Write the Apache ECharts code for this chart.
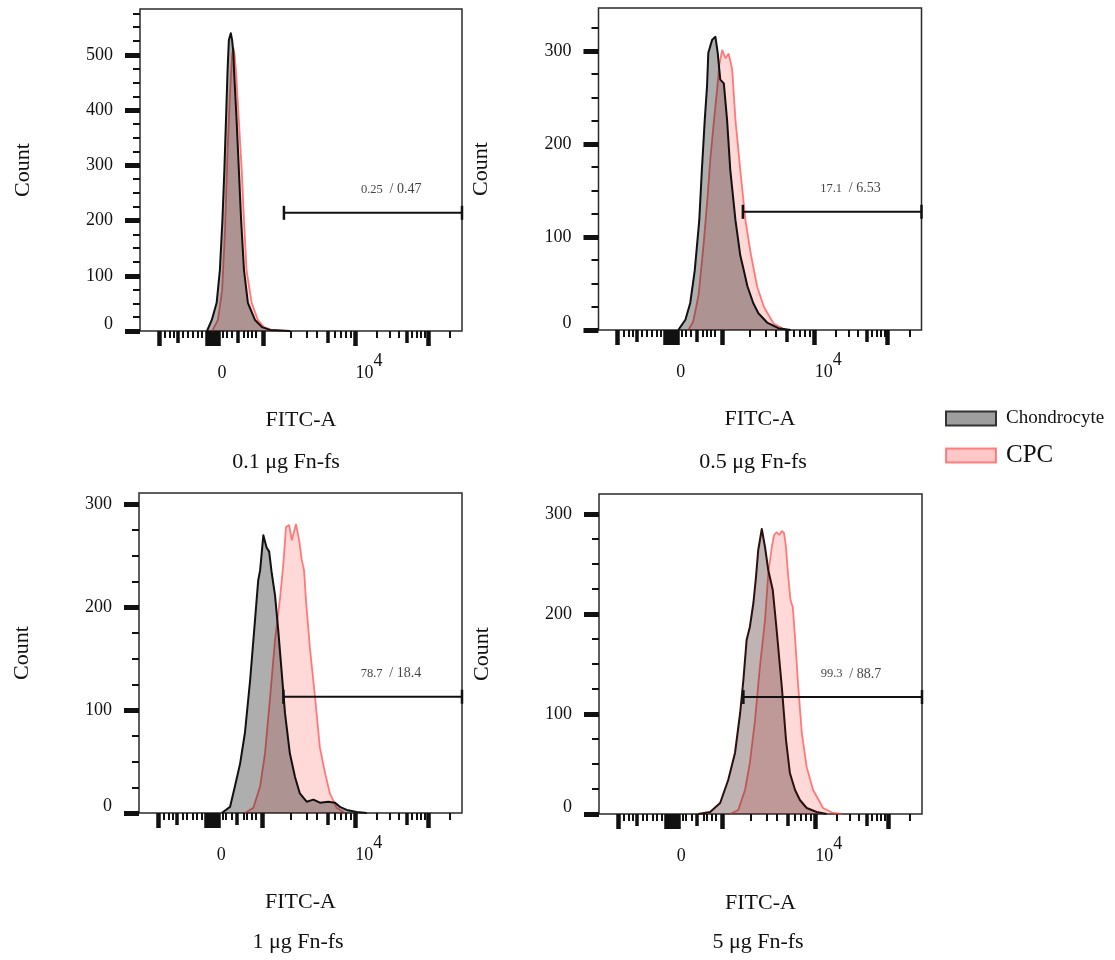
<!DOCTYPE html>
<html><head><meta charset="utf-8">
<script src="https://cdn.jsdelivr.net/npm/echarts@6/dist/echarts.min.js"></script>
<style>html,body{margin:0;padding:0;background:#fff}#c{width:1115px;height:960px}</style>
</head><body><div id="c"></div>
<script>
// ---------- data (x in display channels 0..1000 across the plot, y in counts) ----------
const panelTitles = ['0.1 μg Fn-fs', '0.5 μg Fn-fs', '1 μg Fn-fs', '5 μg Fn-fs'];
const seriesNames = ['Chondrocyte', 'CPC'];

const chondro1 = [[208,0],[223,20],[238,51],[248,110],[256,201],[262,292],[267,382],[272,473],[276,527],[282,539],[286,527],[290,504],[292,473],[300,382],[307,292],[314,201],[323,110],[335,51],[357,20],[379,7],[404,2],[466,0]];
const cpc1 = [[224,0],[242,20],[255,74],[264,183],[272,328],[280,437],[286,500],[290,513],[294,500],[298,473],[307,382],[316,292],[323,201],[331,110],[347,51],[366,20],[385,7],[409,2],[450,0]];

const chondro2 = [[247,0],[269,11],[284,29],[298,64],[312,118],[320,172],[329,226],[336,262],[340,298],[352,312],[362,315],[369,298],[377,269],[388,265],[398,226],[408,172],[424,118],[439,80],[450,64],[461,47],[479,29],[495,18],[522,8],[557,2],[595,0]];
const cpc2 = [[278,0],[293,9],[310,38],[325,91],[337,140],[346,183],[356,220],[367,258],[374,285],[383,301],[393,292],[403,297],[414,280],[424,226],[439,172],[455,118],[471,83],[491,47],[512,25],[542,7],[579,0]];

const chondro3 = [[256,0],[282,6],[297,26],[313,48],[328,78],[344,129],[359,187],[369,226],[375,236],[385,270],[395,258],[403,254],[411,233],[421,212],[431,178],[442,136],[452,97],[467,58],[483,35],[498,19],[519,11],[540,13],[560,10],[586,11],[607,10],[622,6],[643,3],[674,1],[705,0]];
const cpc3 = [[328,0],[354,5],[375,26],[390,58],[406,113],[421,168],[437,210],[447,243],[455,278],[465,280],[473,265],[486,281],[496,265],[504,246],[511,236],[517,207],[529,161],[545,113],[560,64],[576,39],[591,19],[612,5],[638,0]];

const chondro4 = [[307,0],[344,2],[375,11],[400,34],[421,61],[437,101],[447,134],[457,174],[467,187],[478,211],[486,237],[493,264],[504,285],[514,267],[524,244],[538,224],[550,184],[566,127],[579,74],[591,41],[607,24],[622,14],[643,6],[674,2],[705,0]];
const cpc4 = [[406,0],[431,4],[452,24],[467,51],[483,94],[498,147],[514,194],[524,241],[535,267],[542,279],[550,282],[558,279],[566,283],[573,281],[579,267],[586,237],[593,214],[600,207],[607,177],[617,127],[628,81],[643,47],[663,24],[694,6],[725,1],[751,0]];

const chondroData = [chondro1, chondro2, chondro3, chondro4];
const cpcData = [cpc1, cpc2, cpc3, cpc4];

const yMax = [583, 346, 311, 320];
const yMajorTicks = [[0,100,200,300,400,500],[0,100,200,300],[0,100,200,300],[0,100,200,300]];
const yMinorTicks = [
  [25,50,75,125,150,175,225,250,275,325,350,375,425,450,475,525,550,575],
  [25,50,75,125,150,175,225,250,275,325],
  [25,50,75,125,150,175,225,250,275],
  [25,50,75,125,150,175,225,250,275]
];

// biexponential display ticks (display channel positions)
const xMajorTicks = [59,208,217,226,235,244,382,668,894];
const xMediumTicks = [118,304,584,829];
const xMinorTicks = [78,93,106,134,149,165,180,193,258,270,286,323,335,348,360,469,519,550,606,624,640,655,736,776,804,845,860,873,885,963];
const xLabelPos = [255, 711];
const xLabelText = ['{b|0}', '{b|10}{s|4}'];

const gateStart = 447, gateEnd = 1000, gateLabelX = 780;
const gateLevels = [214, 127, 113, 117];
const gateA = ['0.25', '17.1', '78.7', '99.3'];
const gateB = ['0.47', '6.53', '18.4', '88.7'];

// ---------- styles / layout ----------
const FONT = '"Liberation Serif","Times New Roman",serif';
const TXT = '#111';
const chondroFill = ['rgba(0,0,0,0.45)','rgba(0,0,0,0.45)','rgba(0,0,0,0.45)','rgba(55,17,17,0.45)'];
const chondroLine = ['#111','#111','#111','#2a1010'];
const layout = [
  {left:140, top:9, width:322, height:322},
  {left:598.5, top:8, width:323, height:322},
  {left:139, top:493, width:323, height:320},
  {left:599, top:494, width:323, height:320}
];
const subPos = [[286,451],[753,451],[298,931],[758,931]];

const grids = [], xAxes = [], yAxes = [], series = [], titles = [];
layout.forEach((g, i) => {
  grids.push(Object.assign({show:true, borderColor:'#2a2a2a', borderWidth:1.5, backgroundColor:'#fff'}, g));
  const xb = xAxes.length;
  const mkX = (ticks, len, w) => ({type:'value', gridIndex:i, min:0, max:1000, position:'bottom',
    axisLine:{show:false}, splitLine:{show:false}, axisLabel:{show:false},
    axisTick:{show:true, customValues:ticks, length:len, lineStyle:{width:w, color:'#111'}}});
  xAxes.push(mkX(xMajorTicks, 15, 4.5));
  xAxes.push(mkX(xMediumTicks, 12, 3.5));
  xAxes.push(mkX(xMinorTicks, 7, 2));
  xAxes.push({type:'value', gridIndex:i, min:0, max:1000, position:'bottom',
    axisLine:{show:false}, splitLine:{show:false}, axisTick:{show:false},
    name:'FITC-A', nameLocation:'middle', nameGap:78,
    nameTextStyle:{fontFamily:FONT, fontSize:22, color:TXT},
    axisLabel:{show:true, customValues:xLabelPos, margin:21,
      formatter:(v)=>xLabelText[xLabelPos.indexOf(v)],
      rich:{b:{fontFamily:FONT, fontSize:18, lineHeight:30, verticalAlign:'bottom', color:TXT},
            s:{fontFamily:FONT, fontSize:18, lineHeight:30, verticalAlign:'top', color:TXT}}}});
  const yb = yAxes.length;
  yAxes.push({type:'value', gridIndex:i, min:0, max:yMax[i], position:'left',
    axisLine:{show:false}, splitLine:{show:false},
    name:'Count', nameLocation:'middle', nameRotate:90, nameGap:106,
    nameTextStyle:{fontFamily:FONT, fontSize:22, color:TXT},
    axisTick:{show:true, customValues:yMajorTicks[i], length:15, lineStyle:{width:5, color:'#111'}},
    axisLabel:{show:true, customValues:yMajorTicks[i], margin:27, fontFamily:FONT, fontSize:18, color:TXT,
      formatter:(v)=> v===0 ? '{z|0}' : String(v),
      rich:{z:{fontFamily:FONT, fontSize:18, color:TXT, padding:[0,0,14,0]}}}});
  yAxes.push({type:'value', gridIndex:i, min:0, max:yMax[i], position:'left',
    axisLine:{show:false}, splitLine:{show:false}, axisLabel:{show:false},
    axisTick:{show:true, customValues:yMinorTicks[i], length:7, lineStyle:{width:2, color:'#111'}}});

  series.push({name:seriesNames[1], type:'line', xAxisIndex:xb, yAxisIndex:yb, data:cpcData[i],
    symbol:'none', smooth:false, z:2,
    lineStyle:{color:'rgba(255,60,60,0.65)', width:1.8},
    areaStyle:{color:'rgba(255,0,0,0.22)'}});
  series.push({name:seriesNames[0], type:'line', xAxisIndex:xb, yAxisIndex:yb, data:chondroData[i],
    symbol:'none', smooth:false, z:3,
    lineStyle:{color:chondroLine[i], width:2, join:'round'},
    areaStyle:{color:chondroFill[i]}});
  series.push({name:'gate'+i, type:'line', xAxisIndex:xb, yAxisIndex:yb, z:5, clip:false,
    data:[[gateStart, gateLevels[i]],[gateEnd, gateLevels[i]]],
    symbol:'rect', symbolSize:[2.5,14], showAllSymbol:true,
    itemStyle:{color:'#111'}, lineStyle:{color:'#111', width:2}, silent:true});
  series.push({name:'gateLabel'+i, type:'scatter', xAxisIndex:xb, yAxisIndex:yb, z:6,
    data:[[gateLabelX, gateLevels[i]]], symbolSize:0, silent:true,
    label:{show:true, position:'top', distance:16,
      formatter:'{a|'+gateA[i]+'}  {b|/ '+gateB[i]+'}',
      rich:{a:{fontFamily:FONT, fontSize:12.5, color:TXT}, b:{fontFamily:FONT, fontSize:14, color:TXT}}}});
  titles.push({text:panelTitles[i], left:subPos[i][0], top:subPos[i][1], textAlign:'center', padding:0,
    textStyle:{fontFamily:FONT, fontSize:22, fontWeight:'normal', color:TXT}});
});

const option = {
  animation:false,
  backgroundColor:'#fff',
  title:titles,
  grid:grids, xAxis:xAxes, yAxis:yAxes, series:series,
  legend:[
    {data:[{name:'Chondrocyte', icon:'rect', itemStyle:{color:'rgba(0,0,0,0.38)', borderColor:'#333', borderWidth:2}}],
     left:945, top:409, padding:0, itemWidth:50, itemHeight:14, selectedMode:false,
     textStyle:{fontFamily:FONT, fontSize:19, color:TXT, padding:[0,0,0,5]}},
    {data:[{name:'CPC', icon:'rect', itemStyle:{color:'rgba(255,0,0,0.22)', borderColor:'rgba(255,60,60,0.6)', borderWidth:2}}],
     left:945, top:443, padding:0, itemWidth:50, itemHeight:14, selectedMode:false,
     textStyle:{fontFamily:FONT, fontSize:25, color:TXT, padding:[0,0,0,5]}}
  ]
};
const chart = echarts.init(document.getElementById('c'));
chart.setOption(option);
</script></body></html>
